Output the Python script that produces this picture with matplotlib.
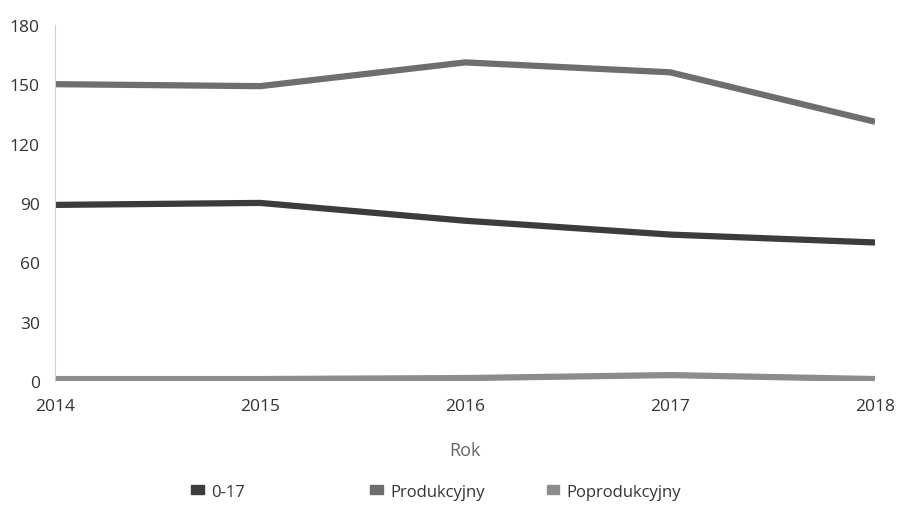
import matplotlib
matplotlib.use("Agg")
from matplotlib import pyplot as plt
from matplotlib.patches import Patch

plt.rcParams["font.family"] = ["Open Sans", "DejaVu Sans"]

years = [2014, 2015, 2016, 2017, 2018]
y_0_17 = [89, 90, 81, 74, 70]
y_produkcyjny = [150, 149, 161, 156, 131]
y_poprodukcyjny = [1, 1, 1.5, 3, 1]

labels = ["0-17", "Produkcyjny", "Poprodukcyjny"]
colors = ["#3c3c3c", "#6e6e6e", "#8c8c8c"]

fig = plt.figure(figsize=(9.04, 5.06), dpi=100)
ax = fig.add_axes([0.061, 0.245, 0.907, 0.704])

for vals, c in zip([y_0_17, y_produkcyjny, y_poprodukcyjny], colors):
    ax.plot(years, vals, color=c, lw=4.5, solid_capstyle="butt")

ax.set_xlim(2014, 2018)
ax.set_ylim(0, 180)
ax.set_yticks(range(0, 181, 30))
ax.set_xticks(years)
for side in ["top", "right", "bottom"]:
    ax.spines[side].set_visible(False)
ax.spines["left"].set_color("#d0d0d0")
ax.spines["left"].set_linewidth(0.8)
ax.tick_params(length=0, labelsize=12.5, labelcolor="#333333")
ax.tick_params(axis="x", pad=12)
ax.tick_params(axis="y", pad=11)
ax.set_xlabel("Rok", fontsize=13, color="#666666", labelpad=20)

# legend entries spaced unevenly like the original
leg_x = [0.195, 0.393, 0.588]
for lab, c, x in zip(labels, colors, leg_x):
    leg = fig.legend(handles=[Patch(color=c, label=lab)], loc="center left",
                     bbox_to_anchor=(x, 0.026), frameon=False, fontsize=12,
                     handlelength=0.75, handleheight=0.45, handletextpad=0.45)
    for t in leg.get_texts():
        t.set_color("#333333")

fig.savefig("out.png", dpi=100)
